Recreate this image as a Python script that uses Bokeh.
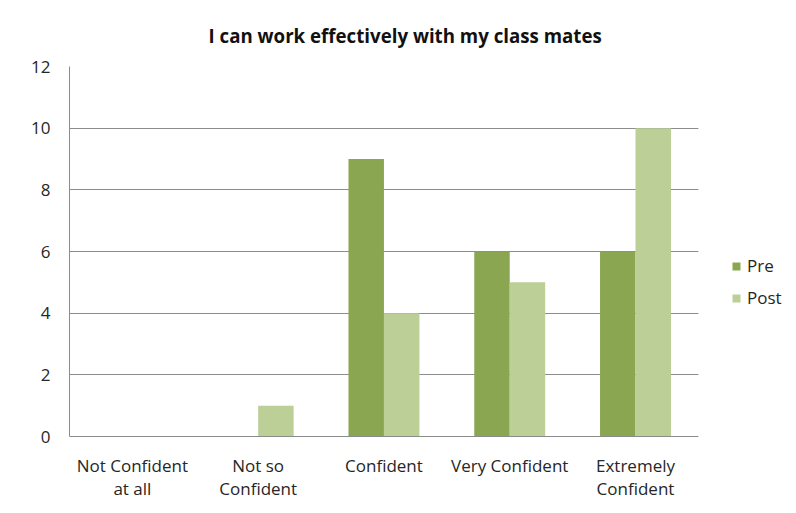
from bokeh.plotting import figure
from bokeh.models import (ColumnDataSource, Legend, LegendItem, Title, FixedTicker,
                          Range1d, BoxAnnotation)
from bokeh.embed import file_html
from bokeh.resources import INLINE

categories = ["Not Confident\nat all", "Not so\nConfident", "Confident", "Very Confident", "Extremely\nConfident"]
pre = [0, 0, 9, 6, 6]
post = [0, 1, 4, 5, 10]
y_ticks = [0, 2, 4, 6, 8, 10, 12]

n = len(categories)
centers = [i + 0.5 for i in range(n)]
bw = 0.282
src = ColumnDataSource(data=dict(
    pre_x=[c - bw / 2 for c in centers], post_x=[c + bw / 2 for c in centers],
    pre=pre, post=post))

FONT = "Open Sans"
TXT = "#262626"
# extra room to the right of the last category holds the legend
legend_room = 0.78
p = figure(x_range=Range1d(0, n + legend_room), y_range=Range1d(0, 12), width=796, height=513,
           output_backend="svg", toolbar_location=None,
           min_border_left=69, min_border_right=0, min_border_top=66, min_border_bottom=77)
p.title = None
t = Title(text="I can work effectively with my class mates", align="left",
          text_font=FONT, text_font_size="18.7px", text_font_style="bold",
          text_color="#111111", offset=139, standoff=38)
p.add_layout(t, "above")

r1 = p.vbar(x="pre_x", top="pre", width=bw, source=src, fill_color="#8AA651", line_color=None)
r2 = p.vbar(x="post_x", top="post", width=bw, source=src, fill_color="#BBCF97", line_color=None)

p.outline_line_color = None
p.background_fill_color = "white"
p.border_fill_color = "white"

p.xgrid.grid_line_color = None
p.ygrid.grid_line_color = "#8c8c8c"
p.ygrid.grid_line_width = 1
p.yaxis.ticker = FixedTicker(ticks=y_ticks)
p.xaxis.ticker = FixedTicker(ticks=centers)
p.xaxis.major_label_overrides = {c: lab for c, lab in zip(centers, categories)}
p.xaxis.bounds = (0, n)

for ax in (p.xaxis, p.yaxis):
    ax.axis_line_color = "#8c8c8c"
    ax.axis_line_width = 1
    ax.major_tick_line_color = None
    ax.minor_tick_line_color = None
    ax.major_tick_out = 0
    ax.major_tick_in = 0
    ax.major_label_text_font = FONT
    ax.major_label_text_font_size = "17px"
    ax.major_label_text_color = TXT

p.yaxis.major_label_standoff = 19
p.xaxis.major_label_standoff = 17
p.xaxis.major_label_text_line_height = 1.0

# blank the gridlines in the legend area (right of the last category)
p.add_layout(BoxAnnotation(left=n, fill_color="white", fill_alpha=1.0, line_color=None))

legend = Legend(items=[LegendItem(label="Pre", renderers=[r1]),
                       LegendItem(label="Post", renderers=[r2])],
                location=(662, 127), padding=0, margin=0, spacing=9,
                glyph_width=10, glyph_height=10, label_height=20, label_standoff=6,
                label_text_font=FONT, label_text_font_size="17px", label_text_color=TXT,
                border_line_color=None, background_fill_alpha=0)
p.add_layout(legend, "center")

open("out.html", "w").write(file_html(p, INLINE))
